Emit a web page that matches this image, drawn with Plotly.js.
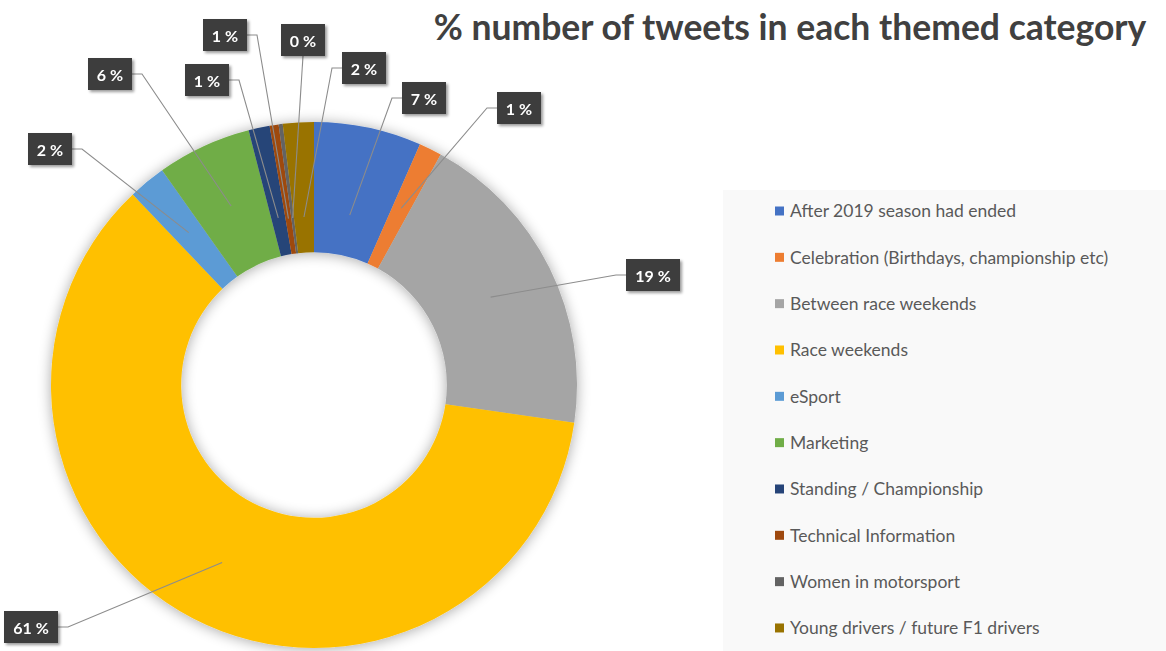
<!DOCTYPE html>
<html><head><meta charset="utf-8">
<script src="https://cdn.plot.ly/plotly-3.0.1.min.js"></script>
<style>html,body{margin:0;padding:0;background:#fff}#chart{width:1166px;height:651px}</style>
</head><body><div id="chart"></div>
<script>
// ---- data ----
const categories = [
  'After 2019 season had ended',
  'Celebration (Birthdays, championship etc)',
  'Between race weekends',
  'Race weekends',
  'eSport',
  'Marketing',
  'Standing / Championship',
  'Technical Information',
  'Women in motorsport',
  'Young drivers / future F1 drivers'
];
const shares = [6.6, 1.4, 19.3, 60.6, 2.3, 5.8, 1.3, 0.55, 0.25, 1.9];
const colors = ['#4472C4','#ED7D31','#A5A5A5','#FFC000','#5B9BD5','#70AD47','#264478','#9E480E','#636363','#997300'];
const titleText = '% number of tweets in each themed category';

// ---- layout constants ----
const W = 1166, H = 651, CX = 314, CY = 385, R = 263, HOLE = 0.505;
const labelPos = [[424,98],[519,108],[653,275],[31,627],[50,149],[110,74],[207,80],[225,35],[303,40],[364,68]];
const elbowSide = ['l','l','l','r','r','r','r','r','b','l'];
const tipFrac  = [0.66,0.75,0.75,0.76,0.75,0.75,0.65,0.64,0.64,0.64];
const legendTop = 211, legendStep = 46.33;
const BOX_H = 32, ELBOW = 10;

const px = x => x/W, py = y => 1 - y/H;
const total = shares.reduce((a,b)=>a+b,0);
const annotations = [];
const shapes = [{
  type:'rect', xref:'paper', yref:'paper', layer:'below',
  x0: px(723), x1: 1, y0: 0, y1: py(190),
  fillcolor:'#f9f9f9', line:{width:0}
}];

let cum = 0;
shares.forEach((v,i)=>{
  const mid = (cum + v/2)/total*2*Math.PI; cum += v;
  const r = R*tipFrac[i];
  const tx = CX + r*Math.sin(mid), ty = CY - r*Math.cos(mid);
  const txt = Math.round(v/total*100) + ' %';
  const bw = txt.length > 3 ? 54 : 44;
  const [lx, ly] = labelPos[i];
  let path;
  if (elbowSide[i] === 'b') {
    path = `M${px(tx)},${py(ty)} L${px(lx)},${py(ly + BOX_H/2)}`;
  } else {
    const s = elbowSide[i] === 'r' ? 1 : -1;
    const edge = lx + s*bw/2, ex = edge + s*ELBOW;
    path = `M${px(tx)},${py(ty)} L${px(ex)},${py(ly)} L${px(edge)},${py(ly)}`;
  }
  shapes.push({type:'path', xref:'paper', yref:'paper', layer:'above', path: path,
    line:{color:'#8c8c8c', width:1.1}});
  annotations.push({
    xref:'paper', yref:'paper', x: px(lx), y: py(ly), xanchor:'center', yanchor:'middle',
    text: '<b>' + txt + '</b>', showarrow:false,
    width: bw, height: BOX_H, borderpad:0, borderwidth:0,
    bgcolor:'#3d3d3d', bordercolor:'#3d3d3d',
    font:{family:'Lato', size:16, color:'#ffffff'}
  });
});

categories.forEach((c,i)=>{
  const yc = legendTop + i*legendStep;
  shapes.push({type:'rect', xref:'paper', yref:'paper', layer:'below',
    x0: px(775), x1: px(784), y0: py(yc+4.5), y1: py(yc-4.5),
    fillcolor: colors[i], line:{width:0}});
  annotations.push({xref:'paper', yref:'paper', x: px(788), y: py(yc),
    xanchor:'left', yanchor:'middle', showarrow:false, text:c,
    font:{family:'Lato', size:17.5, color:'#595959'}});
});

const data = [{
  type:'pie', values: shares, labels: categories,
  marker:{colors: colors, line:{width:0}},
  hole: HOLE, sort:false, direction:'clockwise', rotation:0,
  textinfo:'none', hoverinfo:'skip', showlegend:false,
  domain:{x:[(CX-R)/W,(CX+R)/W], y:[(H-CY-R)/H,(H-CY+R)/H]}
}];

const layout = {
  width:W, height:H, margin:{l:0,r:0,t:0,b:0},
  paper_bgcolor:'#ffffff', showlegend:false,
  title:{text:'<b>'+titleText+'</b>', x:790/W, xanchor:'center', y:1-28/H, yanchor:'middle',
    font:{family:'Lato', size:35.5, color:'#404040'}},
  annotations: annotations, shapes: shapes
};

Plotly.newPlot('chart', data, layout, {staticPlot:true, displayModeBar:false}).then(gd=>{
  const ns = 'http://www.w3.org/2000/svg';
  const svg = gd.querySelector('svg.main-svg');
  const defs = document.createElementNS(ns,'defs');
  svg.insertBefore(defs, svg.firstChild);
  function mk(id, dx, dy, sd, op){
    const f = document.createElementNS(ns,'filter');
    f.setAttribute('id',id);
    f.setAttribute('filterUnits','userSpaceOnUse');
    f.setAttribute('x','0'); f.setAttribute('y','0');
    f.setAttribute('width', W); f.setAttribute('height', H);
    f.innerHTML =
      '<feGaussianBlur in="SourceAlpha" stdDeviation="'+sd+'" result="b"/>' +
      '<feOffset in="b" dx="'+dx+'" dy="'+dy+'" result="o"/>' +
      '<feComponentTransfer in="o" result="s"><feFuncA type="linear" slope="'+op+'"/></feComponentTransfer>' +
      '<feMerge><feMergeNode in="s"/><feMergeNode in="SourceGraphic"/></feMerge>';
    defs.appendChild(f);
  }
  mk('ringShadow',0,1,7,0.35);
  mk('boxShadow',2,2,1.5,0.4);
  const pl = gd.querySelector('.pielayer');
  if(pl) pl.setAttribute('filter','url(#ringShadow)');
  gd.querySelectorAll('g.annotation').forEach(g=>{
    const idx = +g.getAttribute('data-index');
    if(idx < shares.length){
      const t = g.querySelector('.annotation-text-g');
      if(t) t.setAttribute('filter','url(#boxShadow)');
    }
  });
});
</script></body></html>
